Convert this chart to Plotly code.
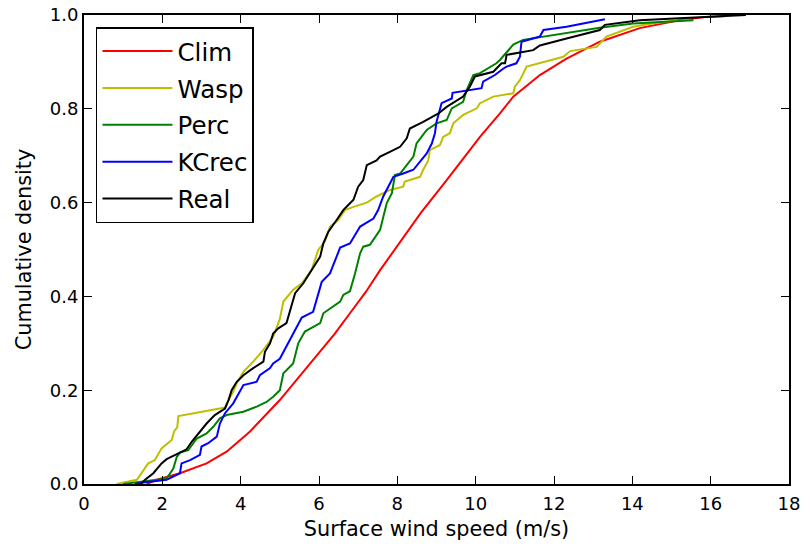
import plotly.graph_objects as go

clim_x = [1.6, 1.86, 2.45, 3.13, 3.64, 4.24, 5.0, 5.5, 6.02, 6.4, 6.79, 7.2, 7.56, 8.11, 8.6, 9.26, 9.7,
          10.11, 10.62, 10.96, 11.64, 12.32, 13.17, 14.19, 15.2, 15.9, 16.4]
clim_y = [0.0, 0.009, 0.023, 0.044, 0.069, 0.112, 0.179, 0.23, 0.282, 0.32, 0.364, 0.41, 0.456, 0.52, 0.578,
          0.648, 0.697, 0.74, 0.79, 0.826, 0.872, 0.907, 0.943, 0.972, 0.989, 0.996, 0.998]

wasp_x = [0.83, 1.35, 1.64, 1.81, 1.98, 2.24, 2.30, 2.38, 2.41, 3.6, 3.69, 3.81, 3.90, 4.07, 4.32, 4.58, 4.83,
          5.0, 5.09, 5.34, 5.56, 5.81, 5.98, 6.15, 6.28, 6.49, 6.66, 6.88, 7.22, 7.47, 7.81, 8.15, 8.19, 8.58,
          8.66, 8.79, 8.83, 9.09, 9.17, 9.34, 9.43, 9.68, 10.03, 10.11, 10.45, 10.96, 11.0, 11.13, 11.3, 11.98,
          12.24, 12.41, 13.09, 13.34, 14.02, 14.5, 15.0, 15.5]
wasp_y = [0.0, 0.009, 0.044, 0.051, 0.076, 0.094, 0.112, 0.121, 0.145, 0.163, 0.179, 0.197, 0.215, 0.239, 0.261,
          0.286, 0.314, 0.352, 0.389, 0.414, 0.428, 0.456, 0.499, 0.517, 0.549, 0.563, 0.584, 0.591, 0.60, 0.613,
          0.627, 0.634, 0.645, 0.655, 0.67, 0.69, 0.712, 0.723, 0.74, 0.748, 0.769, 0.787, 0.801, 0.812, 0.826,
          0.833, 0.847, 0.861, 0.89, 0.904, 0.911, 0.923, 0.932, 0.954, 0.975, 0.982, 0.987, 0.99]

perc_x = [1.0, 1.43, 2.11, 2.2, 2.28, 2.37, 2.45, 2.66, 2.79, 2.88, 3.13, 3.3, 3.47, 3.64, 4.07, 4.41, 4.66,
          4.83, 5.0, 5.09, 5.34, 5.47, 5.64, 6.03, 6.11, 6.54, 6.62, 6.79, 6.92, 7.05, 7.13, 7.3, 7.56, 7.64,
          7.73, 7.86, 7.94, 8.07, 8.32, 8.41, 8.49, 8.75, 9.0, 9.26, 9.39, 9.68, 9.77, 9.94, 10.11, 10.53,
          10.62, 10.88, 10.96, 11.21, 12.32, 13.17, 14.02, 15.56]
perc_y = [0.0, 0.005, 0.012, 0.023, 0.033, 0.058, 0.067, 0.072, 0.087, 0.097, 0.108, 0.122, 0.14, 0.147, 0.154,
          0.165, 0.175, 0.186, 0.2, 0.236, 0.257, 0.3, 0.325, 0.343, 0.364, 0.389, 0.403, 0.411, 0.449, 0.492,
          0.506, 0.51, 0.542, 0.57, 0.599, 0.62, 0.659, 0.662, 0.69, 0.698, 0.726, 0.755, 0.769, 0.776, 0.801,
          0.815, 0.84, 0.872, 0.876, 0.897, 0.904, 0.929, 0.937, 0.947, 0.961, 0.973, 0.982, 0.989]

kcrec_x = [1.3, 1.51, 2.11, 2.45, 2.49, 2.71, 2.96, 3.0, 3.17, 3.39, 3.47, 3.6, 3.81, 3.94, 4.07, 4.41, 4.49,
           4.75, 4.83, 5.0, 5.26, 5.39, 5.56, 5.85, 5.94, 6.07, 6.28, 6.41, 6.54, 6.79, 7.05, 7.39, 7.51, 7.64,
           7.9, 8.15, 8.41, 8.75, 8.88, 8.96, 9.0, 9.13, 9.39, 9.41, 9.85, 10.15, 10.19, 10.49, 10.71, 10.79,
           11.04, 11.13, 11.17, 11.64, 11.73, 12.32, 13.3]
kcrec_y = [0.0, 0.003, 0.009, 0.023, 0.044, 0.051, 0.062, 0.08, 0.087, 0.101, 0.129, 0.151, 0.172, 0.19, 0.211,
           0.218, 0.232, 0.247, 0.257, 0.267, 0.307, 0.328, 0.355, 0.367, 0.392, 0.431, 0.449, 0.478, 0.504,
           0.513, 0.549, 0.566, 0.584, 0.613, 0.655, 0.662, 0.67, 0.705, 0.726, 0.748, 0.772, 0.812, 0.822,
           0.834, 0.84, 0.844, 0.858, 0.872, 0.886, 0.89, 0.897, 0.911, 0.943, 0.954, 0.968, 0.975, 0.991]

real_x = [1.45, 1.56, 1.77, 1.98, 2.11, 2.41, 2.62, 2.75, 2.96, 3.13, 3.34, 3.6, 3.69, 3.77, 3.9, 4.07, 4.32,
          4.58, 4.62, 4.75, 4.83, 4.96, 5.17, 5.26, 5.39, 5.6, 5.81, 6.03, 6.11, 6.24, 6.45, 6.62, 6.88, 7.0,
          7.13, 7.22, 7.47, 7.56, 7.9, 8.07, 8.24, 8.32, 8.66, 9.05, 9.26, 9.68, 9.85, 9.98, 10.45, 10.66,
          10.75, 10.79, 11.47, 11.64, 12.32, 13.17, 13.3, 14.19, 15.2, 16.0, 16.9]
real_y = [0.0, 0.009, 0.023, 0.044, 0.053, 0.065, 0.074, 0.09, 0.112, 0.129, 0.147, 0.161, 0.179, 0.2, 0.218,
          0.232, 0.247, 0.261, 0.282, 0.3, 0.321, 0.332, 0.343, 0.371, 0.407, 0.428, 0.456, 0.485, 0.513, 0.538,
          0.563, 0.584, 0.606, 0.634, 0.648, 0.68, 0.69, 0.698, 0.712, 0.719, 0.737, 0.758, 0.772, 0.79, 0.804,
          0.826, 0.847, 0.869, 0.879, 0.897, 0.897, 0.915, 0.925, 0.935, 0.95, 0.968, 0.979, 0.989, 0.993,
          0.997, 1.0]

x_ticks = [0, 2, 4, 6, 8, 10, 12, 14, 16, 18]
y_ticks = [0.0, 0.2, 0.4, 0.6, 0.8, 1.0]

series = [
    ("Clim", clim_x, clim_y, "#ff0000"),
    ("Wasp", wasp_x, wasp_y, "#bfbf00"),
    ("Perc", perc_x, perc_y, "#008000"),
    ("KCrec", kcrec_x, kcrec_y, "#0000ff"),
    ("Real", real_x, real_y, "#000000"),
]

fig = go.Figure()
for name, xs, ys, col in series:
    fig.add_trace(go.Scatter(x=xs, y=ys, mode="lines", name=name, legendgroup=name,
                             line=dict(color=col, width=2)))

font = "DejaVu Sans, sans-serif"
axis_common = dict(showline=True, linecolor="black", linewidth=2, mirror="ticks",
                   ticks="inside", ticklen=8, tickwidth=1.3, tickcolor="black",
                   showgrid=False, zeroline=False, automargin=False,
                   tickfont=dict(family=font, size=18, color="black"))

fig.update_layout(
    width=804, height=549,
    margin=dict(l=84, r=15, t=15, b=65),
    paper_bgcolor="white", plot_bgcolor="white",
    font=dict(family=font, size=18, color="black"),
    showlegend=True,
    legend=dict(x=0.017, y=0.974, xanchor="left", yanchor="top",
                bordercolor="black", borderwidth=1.5, bgcolor="white",
                font=dict(family=font, size=24.5, color="black"),
                itemwidth=70,
                tracegroupgap=2, traceorder="grouped"),
    xaxis=dict(range=[0, 18], tickvals=x_ticks, ticktext=[str(v) for v in x_ticks],
               ticklabelstandoff=2,
               title=dict(text="Surface wind speed (m/s)", font=dict(family=font, size=20.8), standoff=9),
               **axis_common),
    yaxis=dict(range=[0, 1], tickvals=y_ticks, ticktext=[f"{v:.1f}" for v in y_ticks],
               ticklabelstandoff=0,
               title=dict(text="Cumulative density", font=dict(family=font, size=20.8), standoff=12),
               **axis_common),
)

fig.write_html("out.html", config={"displayModeBar": False},
               post_script="document.body.style.margin='0';")
